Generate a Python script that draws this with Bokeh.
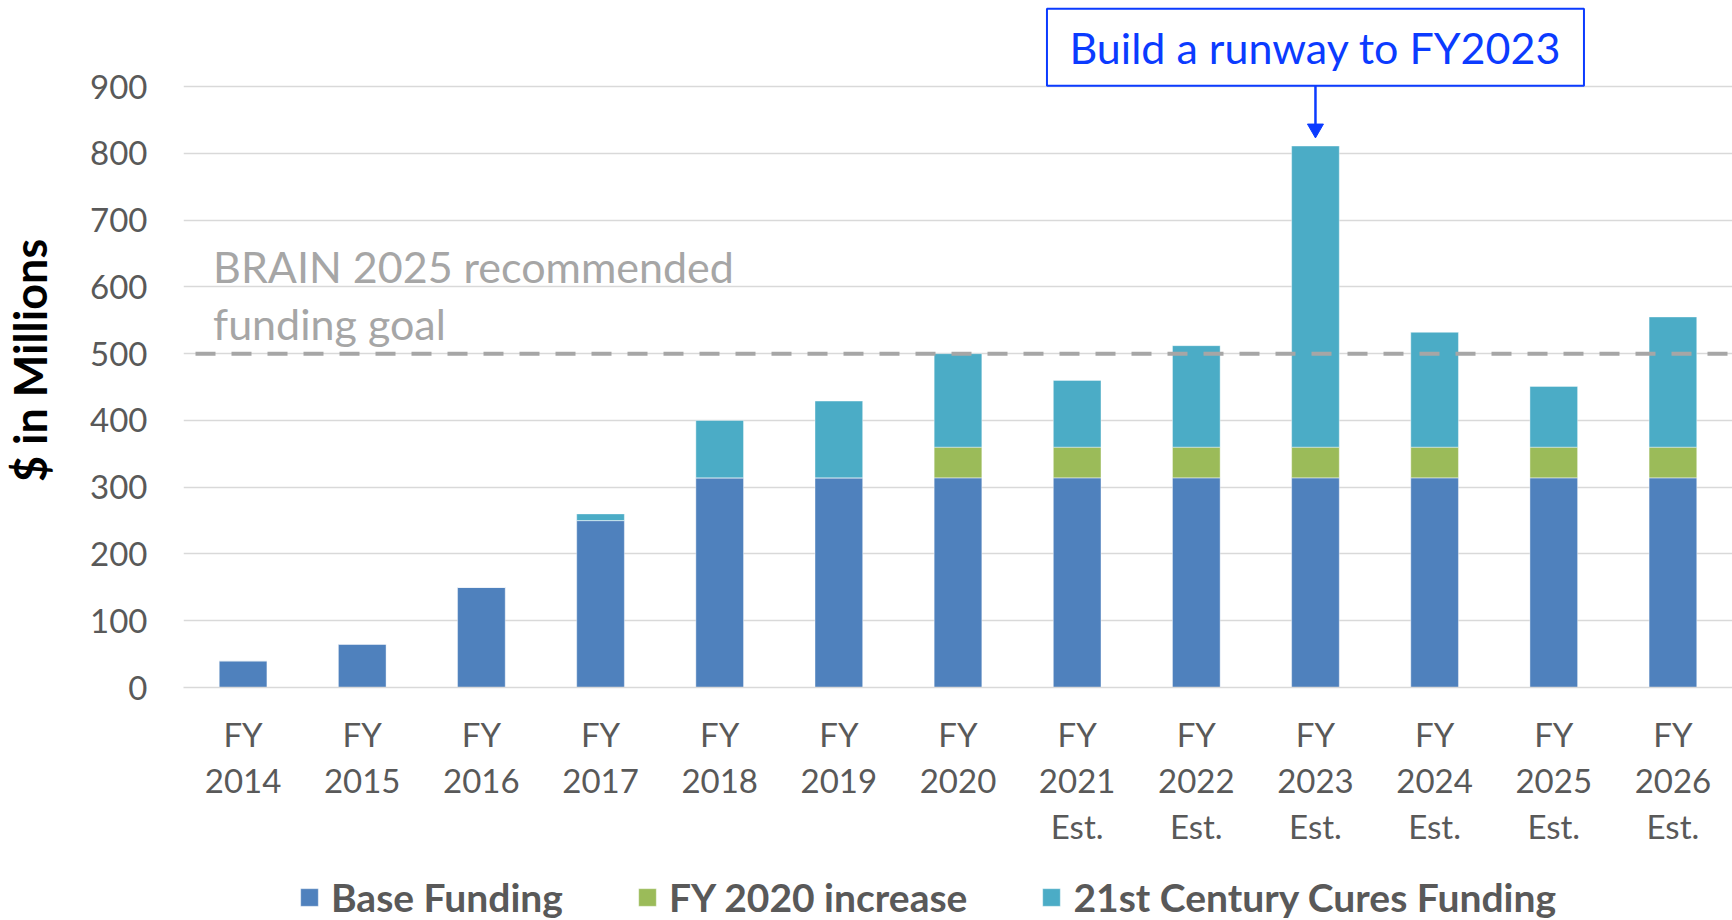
from bokeh.plotting import figure
from bokeh.layouts import column
from bokeh.models import ColumnDataSource, FactorRange, Range1d, FixedTicker, Legend, LegendItem, Span
from bokeh.core.properties import value
from bokeh.embed import file_html
from bokeh.resources import INLINE

# ---------------- data ----------------
years = ["FY 2014", "FY 2015", "FY 2016", "FY 2017", "FY 2018", "FY 2019", "FY 2020",
         "FY 2021", "FY 2022", "FY 2023", "FY 2024", "FY 2025", "FY 2026"]
tick_labels = ["FY\n2014", "FY\n2015", "FY\n2016", "FY\n2017", "FY\n2018", "FY\n2019", "FY\n2020",
               "FY\n2021\nEst.", "FY\n2022\nEst.", "FY\n2023\nEst.", "FY\n2024\nEst.",
               "FY\n2025\nEst.", "FY\n2026\nEst."]
base_funding = [40, 65, 150, 250, 314, 314, 314, 314, 314, 314, 314, 314, 314]
fy2020_increase = [0, 0, 0, 0, 0, 0, 46, 46, 46, 46, 46, 46, 46]
cures_funding = [0, 0, 0, 10, 86, 115, 140, 100, 152, 451, 172, 91, 195]
series_names = ["Base Funding", "FY 2020 increase", "21st Century Cures Funding"]
y_ticks = [0, 100, 200, 300, 400, 500, 600, 700, 800, 900]
goal_value = 500
goal_text = "BRAIN 2025 recommended\nfunding goal"
callout_text = "Build a runway to FY2023"
callout_year = "FY 2023"
y_title = "$ in Millions"

# ---------------- style ----------------
FONT = "Lato"
colors = ["#4F81BD", "#9BBB59", "#4BACC6"]
blue = "#0B3BFF"
grey_text = "#595959"

label_of = dict(zip(years, tick_labels))
factors = [label_of[y] for y in years]
src = ColumnDataSource(dict(x=factors, base=base_funding, inc=fy2020_increase, cures=cures_funding))

p = figure(width=1732, height=857, x_range=FactorRange(factors=factors, range_padding=0),
           y_range=Range1d(0, 1029), output_backend="svg", toolbar_location=None,
           min_border_left=183, min_border_right=0, min_border_top=0, min_border_bottom=170)
p.outline_line_color = None
p.background_fill_color = "white"

rs = p.vbar_stack(["base", "inc", "cures"], x="x", width=0.4, source=src,
                  fill_color=colors, line_color="white", line_alpha=0.4, line_width=1)

# axes
p.yaxis.ticker = FixedTicker(ticks=y_ticks)
p.yaxis.axis_line_color = None
p.yaxis.major_tick_line_color = None
p.yaxis.minor_tick_line_color = None
p.yaxis.major_label_text_font = FONT
p.yaxis.major_label_text_font_size = "33px"
p.yaxis.major_label_text_color = grey_text
p.yaxis.major_label_standoff = 30
p.yaxis.axis_label = y_title + "\u00a0\u00a0\u00a0"
p.yaxis.axis_label_text_font = FONT
p.yaxis.axis_label_text_font_size = "45px"
p.yaxis.axis_label_text_font_style = "bold"
p.yaxis.axis_label_text_color = "black"
p.yaxis.axis_label_standoff = 30

p.xaxis.major_label_text_font = FONT
p.xaxis.major_label_text_font_size = "33px"
p.xaxis.major_label_text_line_height = 1.16
p.xaxis.major_label_text_color = grey_text
p.xaxis.major_label_standoff = 20
p.xaxis.axis_line_color = "#D9D9D9"
p.xaxis.axis_line_width = 1.5
p.xaxis.major_tick_line_color = None
p.xaxis.minor_tick_line_color = None

p.xgrid.grid_line_color = None
p.ygrid.grid_line_color = "#D9D9D9"
p.ygrid.grid_line_width = 1.5

# goal line
p.add_layout(Span(location=goal_value, dimension="width", line_color="#A6A6A6",
                  line_width=4, line_dash="20 16", line_dash_offset=24))
p.text(x=[factors[0]], y=[goal_value], text=[goal_text], x_offset=-30, y_offset=-5,
       text_font=value(FONT), text_font_size="43px", text_color="#A6A6A6",
       text_align="left", text_baseline="bottom", text_line_height=1.12)

# callout
ci = years.index(callout_year)
cx = label_of[callout_year]
top = base_funding[ci] + fy2020_increase[ci] + cures_funding[ci]
p.rect(x=[cx], y=[959], width=537, height=77, width_units="screen", height_units="screen",
       fill_color="white", line_color=blue, line_width=2)
p.text(x=[cx], y=[959], text=[callout_text], text_font=value(FONT), text_font_size="43px",
       text_color=blue, text_align="center", text_baseline="middle")
p.segment(x0=[cx], y0=[901], x1=[cx], y1=[top + 26], line_color=blue, line_width=2.5)
p.scatter(x=[cx], y=[top + 26], marker="inverted_triangle", size=16, fill_color=blue, line_color=blue)

# legend strip (separate figure, below the chart; its frame aligns with the chart frame)
pl = figure(width=1732, height=63, x_range=Range1d(0, 1), y_range=Range1d(0, 1),
            x_axis_location=None, y_axis_location=None,
            output_backend="svg", toolbar_location=None,
            min_border_left=0, min_border_right=0, min_border_top=0, min_border_bottom=0)
pl.grid.visible = False
pl.outline_line_color = None
leg_rs = [pl.vbar(x=[-10], top=[0], width=0.1, fill_color=c, line_color="white", line_alpha=0.4)
          for c in colors]
legend = Legend(items=[LegendItem(label=n, renderers=[r]) for n, r in zip(series_names, leg_rs)],
                orientation="horizontal", location=(115, 0),
                label_text_font=FONT, label_text_font_size="39px", label_text_font_style="bold",
                label_text_color=grey_text, glyph_width=22, glyph_height=22, label_standoff=11,
                spacing=73, border_line_color=None, background_fill_alpha=0, padding=0, margin=0)
pl.add_layout(legend)

layout = column(p, pl, spacing=0)
open("out.html", "w").write(file_html(layout, INLINE))
